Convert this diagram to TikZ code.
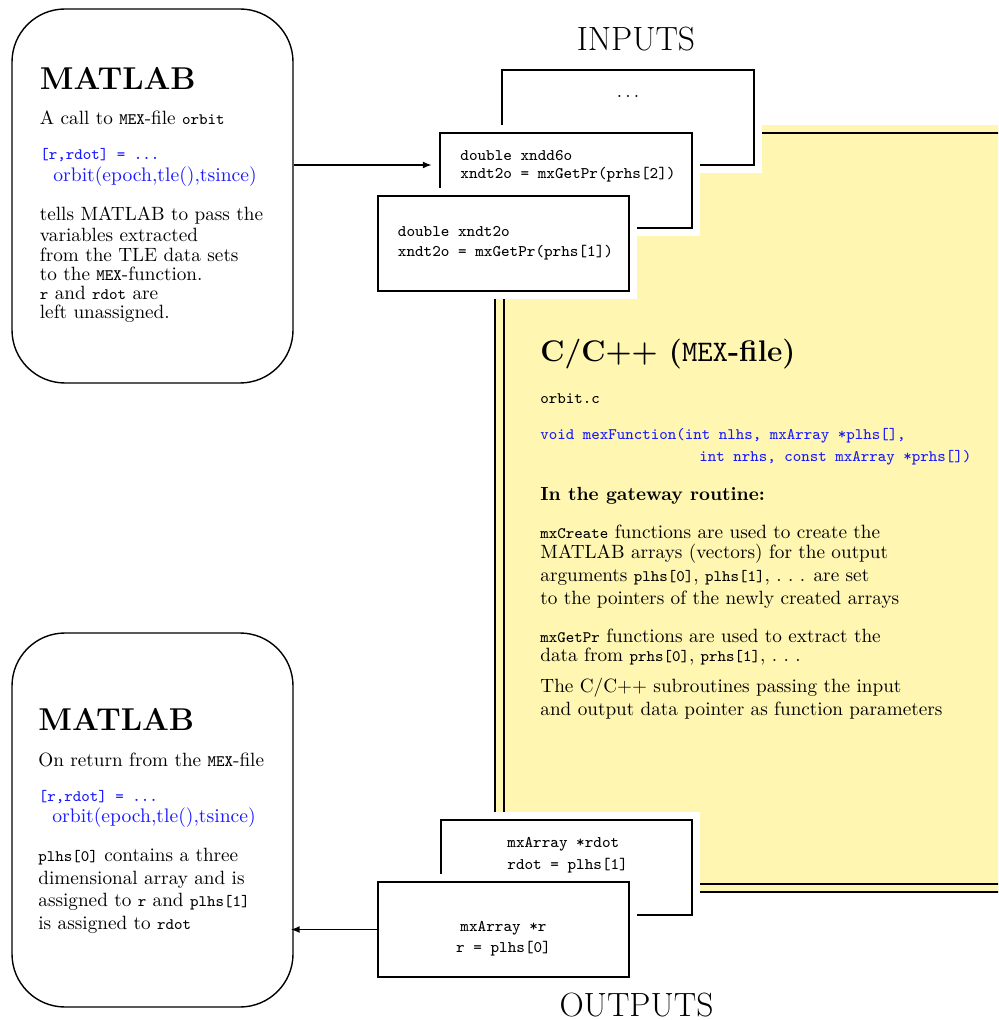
\documentclass[tikz,border=0pt]{standalone}
\usepackage{fontspec}
\usetikzlibrary{arrows.meta,calc}
\definecolor{yel}{RGB}{255,246,178}
\definecolor{codeblue}{RGB}{25,25,255}
\newcommand{\bodyf}{\fontsize{9.6}{11}\selectfont}
\newcommand{\tc}[1]{{\fontsize{8}{9}\selectfont\ttfamily #1}}
\newcommand{\sdots}{.\kern3.2pt.\kern3.2pt.}
\begin{document}
\begin{tikzpicture}[x=0.5pt,y=-0.5pt,
  txt/.style={inner sep=0pt, anchor=base west, font=\bodyf},
  btxt/.style={inner sep=0pt, anchor=base west, font=\fontsize{8.1}{9}\selectfont\ttfamily},
  matbox/.style={draw, line width=0.7pt, rounded corners=26.5pt, minimum width=140.5pt, minimum height=187pt, inner sep=0pt},
  codebox/.style={draw, line width=1.25pt, fill=white, preaction={draw=white, line width=8pt}, minimum width=126pt, minimum height=47.5pt, inner sep=0pt},
  bigtitle/.style={inner sep=0pt, anchor=base west, font=\fontsize{15.8}{18}\selectfont\bfseries},
  iolab/.style={inner sep=0pt, anchor=base, font=\fontsize{16.8}{19}\selectfont},
  arr/.style={line width=0.75pt, -{Latex[length=4.5pt,width=3.5pt]}}]
\clip (0,0) rectangle (998,1020);
\fill[white] (0,0) rectangle (998,1020);

% ---------- yellow C/C++ box ----------
\fill[yel] (495,125) rectangle (1000,892);
\draw[line width=0.7pt] (495,125) -- (495,892) -- (1000,892);
\draw[line width=1.25pt] (1000,133) -- (504,133) -- (504,884) -- (1000,884);

\node[inner sep=0pt, anchor=base west, font=\fontsize{14.9}{17}\selectfont\bfseries] (ctitle) at (540,362) {C/C++ ({\mdseries\ttfamily MEX}-file)};
\node[txt] (c1) at (540,404) {\tc{orbit.c}};
\node[txt, text=codeblue] (c2) at (540,439) {\tc{void mexFunction(int nlhs, mxArray *plhs[],}};
\node[txt, text=codeblue] (c3) at (699,461) {\tc{int nrhs, const mxArray *prhs[])}};
\node[txt, font=\fontsize{9.5}{11}\selectfont\bfseries] (c4) at (540,500) {In the gateway routine:};
\node[txt] (c5) at (540,538) {\tc{mxCreate} functions are used to create the};
\node[txt] (c6) at (540,558) {MATLAB arrays (vectors) for the output};
\node[txt] (c7) at (540,581) {arguments \tc{plhs[0]}, \tc{plhs[1]}, \sdots{} are set};
\node[txt] (c8) at (540,604) {to the pointers of the newly created arrays};
\node[txt] (c9) at (540,642) {\tc{mxGetPr} functions are used to extract the};
\node[txt] (c10) at (540,661) {data from \tc{prhs[0]}, \tc{prhs[1]}, \sdots};
\node[txt] (c11) at (540,692) {The C/C++ subroutines passing the input};
\node[txt] (c12) at (540,715) {and output data pointer as function parameters};

% ---------- MATLAB boxes ----------
\node[matbox] (mat1) at (152.5,196) {};
\node[bigtitle] (m1t) at (39.5,90) {MATLAB};
\node[txt] (m1a) at (39.5,125) {A call to \tc{MEX}-file \tc{orbit}};
\node[txt, text=codeblue] (m1b) at (40,160) {\tc{[r,rdot] = ...}};
\node[txt, text=codeblue, font=\fontsize{9.8}{11}\selectfont] (m1c) at (53,182) {orbit(epoch,tle(),tsince)};
\node[txt] (m1d) at (39.5,221) {tells MATLAB to pass the};
\node[txt] (m1e) at (39.5,242) {variables extracted};
\node[txt] (m1f) at (39.5,262) {from the TLE data sets};
\node[txt] (m1g) at (39.5,281) {to the \tc{MEX}-function.};
\node[txt] (m1h) at (39.5,300) {\tc{r} and \tc{rdot} are};
\node[txt] (m1i) at (39.5,319) {left unassigned.};

\node[matbox] (mat2) at (152.5,820) {};
\node[bigtitle] (m2t) at (38,730) {MATLAB};
\node[txt] (m2a) at (38,766) {On return from the \tc{MEX}-file};
\node[txt, text=codeblue] (m2b) at (38.5,801) {\tc{[r,rdot] = ...}};
\node[txt, text=codeblue, font=\fontsize{9.8}{11}\selectfont] (m2c) at (52,822) {orbit(epoch,tle(),tsince)};
\node[txt] (m2d) at (38,861) {\tc{plhs[0]} contains a three};
\node[txt] (m2e) at (38,884) {dimensional array and is};
\node[txt] (m2f) at (38,906) {assigned to \tc{r} and \tc{plhs[1]}};
\node[txt] (m2g) at (38,929) {is assigned to \tc{rdot}};

% ---------- input boxes ----------
\node[iolab] (inlab) at (636,51) {INPUTS};
\node[codebox] (in3) at (628,117.5) {};
\node[inner sep=0pt, anchor=base, font=\bodyf] (in3t) at (628,98) {.\kern1.6pt.\kern1.6pt.};
\node[codebox] (in2) at (566,180.5) {};
\node[btxt] (in2a) at (460,161) {double xndd6o};
\node[btxt] (in2b) at (460,179) {xndt2o = mxGetPr(prhs[2])};
\node[codebox, minimum width=125.5pt] (in1) at (503.5,243.5) {};
\node[btxt] (in1a) at (397.5,237) {double xndt2o};
\node[btxt] (in1b) at (397.5,256.5) {xndt2o = mxGetPr(prhs[1])};

% ---------- output boxes ----------
\node[codebox, minimum width=125.5pt] (out2) at (566.5,867.5) {};
\node[btxt] (out2a) at (507,847) {mxArray *rdot};
\node[btxt] (out2b) at (507,869) {rdot = plhs[1]};
\node[codebox, minimum width=125.5pt] (out1) at (503.5,929.5) {};
\node[btxt, anchor=base] (out1a) at (503.5,931) {mxArray *r};
\node[btxt, anchor=base] (out1b) at (503.5,952) {r = plhs[0]};
\node[iolab] (outlab) at (636.5,1016) {OUTPUTS};

% ---------- connectors ----------
\coordinate (ya) at (0,165);
\draw[arr] (mat1.east |- ya) -- ([xshift=-3.5pt]in2.west |- ya);
\draw[arr] (out1.west) -- ([xshift=-1.5pt]mat2.east |- out1.west);
\end{tikzpicture}
\end{document}
